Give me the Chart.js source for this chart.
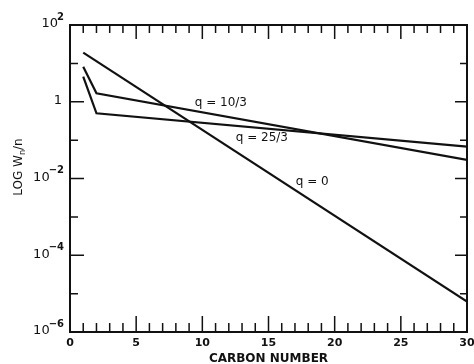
<!DOCTYPE html>
<html>
<head>
<meta charset="utf-8">
<script src="https://cdn.jsdelivr.net/npm/chart.js@4.4.1/dist/chart.umd.min.js"></script>
<style>
  body { margin: 0; background: #fff; }
</style>
</head>
<body>
<canvas id="myChart" width="474" height="364"></canvas>
<script>
// carbon number n and W_n/n
const nQ0 = [1, 30]
const wQ0 = [19, 6.2e-6]

const nQ10 = [1, 2, 30]
const wQ10 = [8.2, 1.66, 0.0305]

const nQ25 = [1, 2, 30]
const wQ25 = [4.5, 0.50, 0.068]

const xTicks = [0, 5, 10, 15, 20, 25, 30]
const yExponents = [2, 0, -2, -4, -6]   // labelled decades

const seriesNames = ['q = 0', 'q = 10/3', 'q = 25/3']

const ink = '#111'
const fontFam = '"DejaVu Sans", "Liberation Sans", sans-serif'

function pts(xs, ys) {
    return xs.map((x, i) => ({ x: x, y: ys[i] }))
}

function lineSet(label, xs, ys) {
    return {
        label: label,
        data: pts(xs, ys),
        borderColor: ink,
        borderWidth: 2.2,
        pointRadius: 0,
        tension: 0,
        fill: false
    }
}

// where the curve names sit, in data units
const labelSpots = [
    { text: seriesNames[1], x: 11.4, y: 0.93 },
    { text: seriesNames[2], x: 14.5, y: 0.115 },
    { text: seriesNames[0], x: 18.3, y: 0.0081 }
]

const framePlugin = {
    id: 'frame',
    afterDraw(chart) {
        const ctx = chart.ctx
        const a = chart.chartArea
        const xs = chart.scales.x
        const ys = chart.scales.y
        ctx.save()
        ctx.strokeStyle = ink
        ctx.fillStyle = ink
        ctx.lineWidth = 2
        ctx.strokeRect(a.left, a.top, a.right - a.left, a.bottom - a.top)

        // x ticks, top and bottom, pointing inward
        ctx.lineWidth = 1.5
        for (let n = 1; n < 30; n++) {
            let px = xs.getPixelForValue(n)
            let big = n % 5 == 0
            ctx.beginPath()
            ctx.moveTo(px, a.bottom)
            ctx.lineTo(px, a.bottom - (big ? 16 : 9))
            ctx.moveTo(px, a.top)
            ctx.lineTo(px, a.top + (big ? 14 : 8))
            ctx.stroke()
        }

        // y ticks, each decade
        for (let e = 1; e > -6; e--) {
            let py = ys.getPixelForValue(Math.pow(10, e))
            let big = e % 2 == 0
            ctx.beginPath()
            ctx.moveTo(a.left, py)
            ctx.lineTo(a.left + (big ? 14 : 8), py)
            ctx.moveTo(a.right, py)
            ctx.lineTo(a.right - (big ? 12 : 7), py)
            ctx.stroke()
        }

        // x tick labels
        ctx.font = 'bold 11px ' + fontFam
        ctx.textAlign = 'center'
        ctx.textBaseline = 'middle'
        xTicks.forEach(v => {
            ctx.fillText(String(v), xs.getPixelForValue(v), a.bottom + 11)
        })

        // y tick labels with superscripts
        yExponents.forEach(e => {
            let py = ys.getPixelForValue(Math.pow(10, e)) - 2
            let right = a.left - 6
            ctx.textBaseline = 'middle'
            ctx.textAlign = 'right'
            if (e == 0) {
                ctx.font = '13px ' + fontFam
                ctx.fillText('1', right - 2, py + 1)
                return
            }
            let sup = e < 0 ? '\u2212' + Math.abs(e) : String(e)
            ctx.font = 'bold 10px ' + fontFam
            let supW = ctx.measureText(sup).width
            ctx.fillText(sup, right, py - 6)
            ctx.font = '13px ' + fontFam
            ctx.fillText('10', right - supW + 1, py + 1)
        })

        // axis titles
        ctx.font = 'bold 12px ' + fontFam
        ctx.textAlign = 'center'
        ctx.textBaseline = 'alphabetic'
        ctx.fillText('CARBON NUMBER', (a.left + a.right) / 2, 362)

        ctx.save()
        ctx.translate(22, 167)
        ctx.rotate(-Math.PI / 2)
        ctx.textAlign = 'left'
        let p1 = 'LOG W', p2 = 'n', p3 = '/n'
        ctx.font = '12px ' + fontFam
        let w1 = ctx.measureText(p1).width
        let w3 = ctx.measureText(p3).width
        ctx.font = '8px ' + fontFam
        let w2 = ctx.measureText(p2).width
        let x0 = -(w1 + w2 + w3) / 2
        ctx.font = '12px ' + fontFam
        ctx.fillText(p1, x0, 0)
        ctx.font = '8px ' + fontFam
        ctx.fillText(p2, x0 + w1, 3)
        ctx.font = '12px ' + fontFam
        ctx.fillText(p3, x0 + w1 + w2, 0)
        ctx.restore()

        // curve names
        ctx.font = '12px ' + fontFam
        ctx.textAlign = 'center'
        ctx.textBaseline = 'middle'
        labelSpots.forEach(s => {
            ctx.fillText(s.text, xs.getPixelForValue(s.x), ys.getPixelForValue(s.y))
        })
        ctx.restore()
    }
}

const config = {
    type: 'line',
    data: {
        datasets: [
            lineSet(seriesNames[0], nQ0, wQ0),
            lineSet(seriesNames[1], nQ10, wQ10),
            lineSet(seriesNames[2], nQ25, wQ25)
        ]
    },
    options: {
        responsive: false,
        animation: false,
        devicePixelRatio: 1,
        layout: { padding: { left: 70, right: 7, top: 25, bottom: 32 } },
        plugins: {
            legend: { display: false },
            tooltip: { enabled: false }
        },
        scales: {
            x: { type: 'linear', min: 0, max: 30, display: false },
            y: { type: 'logarithmic', min: 1e-6, max: 1e2, display: false }
        }
    },
    plugins: [framePlugin]
}

const myChart = new Chart(document.getElementById('myChart'), config)
</script>
</body>
</html>
